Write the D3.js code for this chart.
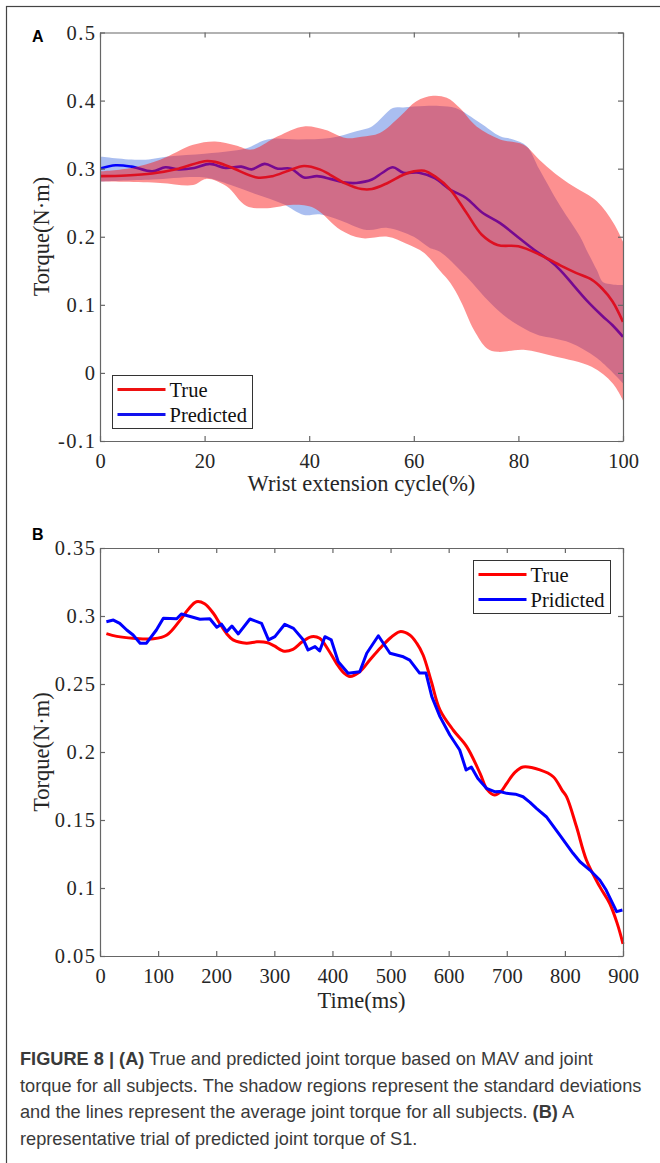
<!DOCTYPE html>
<html>
<head>
<meta charset="utf-8">
<script src="https://cdn.jsdelivr.net/npm/d3@7"></script>
<style>
  body { margin: 0; background: #fff; }
  svg { display: block; }
</style>
</head>
<body>
<svg id="fig" width="660" height="1163"></svg>
<script>
// ---- panel A: mean +/- sd over the wrist extension cycle ----
var pctTicks = [0, 20, 40, 60, 80, 100];
var torqueTicksA = [-0.1, 0, 0.1, 0.2, 0.3, 0.4, 0.5];

var aTrueMean = [[0,0.289],[5,0.290],[10,0.293],[15,0.300],[20,0.311],[22,0.310],[25,0.302],[30,0.287],[33,0.289],[36,0.297],[39,0.304],[42,0.299],[44,0.291],[47,0.278],[50,0.270],[52,0.270],[55,0.279],[58,0.291],[60,0.296],[62,0.297],[64,0.289],[67,0.269],[70,0.236],[73,0.203],[76,0.188],[80,0.186],[84,0.174],[88,0.158],[91,0.147],[94,0.137],[96,0.124],[98,0.105],[100,0.075]];
var aPredMean = [[0,0.300],[3,0.305],[6,0.303],[10,0.296],[12.5,0.302],[15,0.299],[18,0.301],[21,0.307],[24,0.301],[27,0.303],[29,0.299],[31.5,0.307],[34,0.300],[36.5,0.300],[39,0.287],[41.5,0.289],[44,0.285],[46.5,0.280],[49,0.279],[52,0.284],[54,0.294],[56,0.302],[58,0.294],[61,0.294],[64,0.286],[67,0.269],[70,0.257],[73,0.236],[76.5,0.220],[80,0.199],[83,0.181],[86,0.165],[88,0.151],[90.5,0.129],[93,0.107],[96,0.084],[98,0.070],[100,0.053]];
var aTrueUpper = [[0,0.296],[6,0.301],[11.5,0.313],[17.8,0.335],[22,0.340],[26,0.334],[29,0.328],[34,0.3475],[39,0.362],[43,0.357],[47,0.345],[50,0.347],[53.5,0.3525],[57.4,0.377],[60.5,0.399],[63.7,0.407],[66.3,0.404],[68.8,0.389],[72,0.362],[76.5,0.343],[81,0.335],[84,0.313],[87,0.293],[90.5,0.274],[95,0.252],[98.2,0.220],[100,0.193]];
var aTrueLower = [[0,0.281],[11.5,0.279],[17.8,0.276],[20.3,0.285],[24.2,0.274],[28,0.245],[32,0.242],[37,0.247],[41,0.242],[46,0.210],[50,0.198],[55,0.200],[58.5,0.190],[62,0.176],[65,0.150],[67,0.132],[69,0.105],[71.5,0.063],[74,0.036],[76,0.031],[81,0.034],[87,0.024],[94,0.009],[98,-0.015],[100,-0.040]];
var aPredUpper = [[0,0.318],[8,0.313],[13,0.318],[20,0.322],[25,0.326],[28,0.330],[32,0.343],[38,0.343],[44,0.345],[49,0.355],[52,0.362],[56,0.389],[58,0.390],[62,0.392],[65,0.392],[68,0.389],[72.7,0.367],[76.5,0.3475],[79,0.343],[81.6,0.333],[84,0.299],[88,0.245],[91.8,0.200],[93,0.181],[95,0.151],[96.2,0.133],[98,0.130],[100,0.129]];
var aPredLower = [[0,0.281],[10,0.284],[20,0.287],[25,0.276],[30,0.262],[35,0.248],[39,0.232],[42,0.233],[46,0.224],[51,0.210],[55,0.213],[60,0.200],[63,0.184],[65,0.178],[70,0.142],[74.6,0.103],[78,0.080],[81.6,0.063],[84,0.055],[86.7,0.051],[90,0.044],[95,0.022],[100,-0.015]];

// ---- panel B: one trial of S1 ----
var timeTicks = [0, 100, 200, 300, 400, 500, 600, 700, 800, 900];
var torqueTicksB = [0.05, 0.1, 0.15, 0.2, 0.25, 0.3, 0.35];

var bTrue = [[11,0.287],[29,0.285],[57,0.2836],[92,0.2832],[115,0.286],[138,0.297],[152,0.305],[166,0.3105],[180,0.309],[195,0.302],[206,0.2946],[218,0.287],[229,0.2824],[252,0.280],[270,0.281],[287,0.2805],[300,0.278],[315,0.2743],[332,0.2755],[348,0.281],[364,0.2848],[378,0.2836],[393,0.275],[407,0.2652],[420,0.258],[430,0.2555],[447,0.259],[465,0.268],[482,0.2763],[500,0.284],[516,0.2885],[533,0.286],[545,0.280],[556,0.2713],[570,0.252],[585,0.231],[608,0.216],[631,0.204],[654,0.1843],[666,0.1725],[679,0.1684],[690,0.171],[700,0.177],[714,0.185],[728,0.189],[757,0.1868],[780,0.1818],[795,0.172],[803,0.167],[820,0.145],[837,0.1206],[860,0.101],[877,0.0888],[890,0.074],[900,0.059]];
var bPred = [[11,0.2958],[23,0.297],[34,0.2946],[46,0.2897],[57,0.286],[69,0.280],[80,0.280],[97,0.2897],[109,0.2983],[132,0.298],[140,0.3015],[172,0.2976],[189,0.298],[201,0.2917],[209,0.294],[218,0.2885],[227,0.2926],[238,0.2868],[258,0.2978],[278,0.2946],[290,0.2824],[301,0.2848],[318,0.2939],[333,0.2909],[350,0.2824],[358,0.275],[370,0.2775],[378,0.2743],[387,0.2848],[398,0.2824],[410,0.2664],[427,0.2579],[447,0.259],[459,0.2726],[479,0.2855],[499,0.2726],[522,0.270],[533,0.2676],[550,0.258],[561,0.258],[571,0.2407],[585,0.226],[602,0.2125],[619,0.2015],[630,0.1868],[639,0.189],[650,0.1807],[665,0.1733],[679,0.1708],[688,0.171],[700,0.1696],[715,0.1690],[728,0.1671],[740,0.163],[751,0.1586],[768,0.1524],[791,0.139],[814,0.1255],[826,0.1193],[843,0.1132],[860,0.1059],[871,0.0985],[889,0.0826],[899,0.0838]];

var serif = '"Liberation Serif", "Times New Roman", serif';
var sans = '"Liberation Sans", Arial, sans-serif';
var axisColor = "#666";

var svg = d3.select("#fig");

// figure frame (only top and left show inside the window)
svg.append("rect")
  .attr("x", 6.5).attr("y", 6.5)
  .attr("width", 700).attr("height", 1200)
  .attr("fill", "none").attr("stroke", "#444").attr("stroke-width", 1.2);

function fmt(d) { return d === 0 ? "0" : String(+d.toFixed(2)); }

function drawAxes(g, x, y, xt, yt) {
  var x0 = x.range()[0], x1 = x.range()[1];
  var y0 = y.range()[0], y1 = y.range()[1];

  var left = g.append("g").attr("transform", "translate(" + x0 + ",0)")
    .call(d3.axisLeft(y).tickValues(yt).tickSizeInner(-5).tickSizeOuter(0).tickPadding(3.5).tickFormat(fmt));
  left.selectAll("text").attr("letter-spacing", 1.5);

  var parts = [
    left,
    g.append("g").attr("transform", "translate(0," + y0 + ")")
      .call(d3.axisBottom(x).tickValues(xt).tickSizeInner(-5).tickSizeOuter(0).tickPadding(12).tickFormat(fmt)),
    g.append("g").attr("transform", "translate(0," + y1 + ")")
      .call(d3.axisTop(x).tickValues(xt).tickSizeInner(-5).tickSizeOuter(0).tickFormat("")),
    g.append("g").attr("transform", "translate(" + x1 + ",0)")
      .call(d3.axisRight(y).tickValues(yt).tickSizeInner(-5).tickSizeOuter(0).tickFormat(""))
  ];
  parts.forEach(function (p) {
    p.attr("font-family", serif).attr("font-size", 20.5);
    p.selectAll("path, line").attr("stroke", axisColor).attr("stroke-width", 1.2);
    p.selectAll("text").attr("fill", "#262626");
  });
}

function band(x, y, upper, lower) {
  var gen = d3.line().x(function (d) { return x(d[0]); }).y(function (d) { return y(d[1]); })
    .curve(d3.curveCatmullRom);
  var top = gen(upper);
  var bottom = gen(lower.slice().reverse());
  return top + "L" + bottom.slice(1) + "Z";
}

function legend(g, bx, by, bw, bh, names) {
  g.append("rect").attr("x", bx).attr("y", by).attr("width", bw).attr("height", bh)
    .attr("fill", "#fff").attr("stroke", "#333").attr("stroke-width", 1);
  names.forEach(function (n, i) {
    var ly = by + 14 + i * 25;
    g.append("line").attr("x1", bx + 5).attr("x2", bx + 53).attr("y1", ly).attr("y2", ly)
      .attr("stroke", n.color).attr("stroke-width", 3);
    g.append("text").attr("x", bx + 57).attr("y", ly + 7)
      .attr("font-family", serif).attr("font-size", 20.5).attr("fill", "#111")
      .text(n.label);
  });
}

// ---------- Panel A ----------
var xA = d3.scaleLinear().domain([0, 100]).range([100, 623]);
var yA = d3.scaleLinear().domain([-0.1, 0.5]).range([441, 32.5]);
var gA = svg.append("g");

svg.append("clipPath").attr("id", "clipA").append("rect")
  .attr("x", 100).attr("y", 32.5).attr("width", 523).attr("height", 408.5);
var plotA = gA.append("g").attr("clip-path", "url(#clipA)");

var lineA = d3.line().x(function (d) { return xA(d[0]); }).y(function (d) { return yA(d[1]); })
  .curve(d3.curveCatmullRom);

plotA.append("path").attr("d", band(xA, yA, aPredUpper, aPredLower))
  .attr("fill", "rgb(74,117,223)").attr("fill-opacity", 0.47);
plotA.append("path").datum(aPredMean).attr("d", lineA)
  .attr("fill", "none").attr("stroke", "#0000ff").attr("stroke-width", 2.6);
plotA.append("path").attr("d", band(xA, yA, aTrueUpper, aTrueLower))
  .attr("fill", "rgb(250,20,20)").attr("fill-opacity", 0.47);
plotA.append("path").datum(aTrueMean).attr("d", lineA)
  .attr("fill", "none").attr("stroke", "#dd1022").attr("stroke-width", 2.6);

drawAxes(gA, xA, yA, pctTicks, torqueTicksA);

legend(gA, 112.5, 375.5, 140, 53, [{ label: "True", color: "#ee1111" }, { label: "Predicted", color: "#1111ee" }]);

gA.append("text").attr("x", 361.5).attr("y", 491).attr("text-anchor", "middle")
  .attr("font-family", serif).attr("font-size", 22.5).attr("fill", "#262626")
  .text("Wrist extension cycle(%)");
gA.append("text").attr("transform", "translate(49,236.5) rotate(-90)").attr("text-anchor", "middle")
  .attr("font-family", serif).attr("font-size", 22.5).attr("fill", "#262626")
  .text("Torque(N\u00b7m)");
gA.append("text").attr("x", 32).attr("y", 42)
  .attr("font-family", sans).attr("font-weight", "bold").attr("font-size", 16).attr("fill", "#000")
  .text("A");

// ---------- Panel B ----------
var xB = d3.scaleLinear().domain([0, 900]).range([100, 623]);
var yB = d3.scaleLinear().domain([0.05, 0.35]).range([956, 548]);
var gB = svg.append("g");

var lineB = d3.line().x(function (d) { return xB(d[0]); }).y(function (d) { return yB(d[1]); });

gB.append("path").datum(bTrue).attr("d", lineB.curve(d3.curveCatmullRom))
  .attr("fill", "none").attr("stroke", "#ff0000").attr("stroke-width", 3);
gB.append("path").datum(bPred).attr("d", lineB.curve(d3.curveLinear))
  .attr("fill", "none").attr("stroke", "#0000ff").attr("stroke-width", 3)
  .attr("stroke-linejoin", "round");

drawAxes(gB, xB, yB, timeTicks, torqueTicksB);

legend(gB, 473.5, 560.5, 137, 53, [{ label: "True", color: "#ff0000" }, { label: "Pridicted", color: "#0000ff" }]);

gB.append("text").attr("x", 361.5).attr("y", 1008).attr("text-anchor", "middle")
  .attr("font-family", serif).attr("font-size", 22.5).attr("fill", "#262626")
  .text("Time(ms)");
gB.append("text").attr("transform", "translate(49,752) rotate(-90)").attr("text-anchor", "middle")
  .attr("font-family", serif).attr("font-size", 22.5).attr("fill", "#262626")
  .text("Torque(N\u00b7m)");
gB.append("text").attr("x", 32).attr("y", 540)
  .attr("font-family", sans).attr("font-weight", "bold").attr("font-size", 16).attr("fill", "#000")
  .text("B");

// ---------- caption ----------
var caption = [
  [["FIGURE 8 | (A)", true], [" True and predicted joint torque based on MAV and joint", false]],
  [["torque for all subjects. The shadow regions represent the standard deviations", false]],
  [["and the lines represent the average joint torque for all subjects. ", false], ["(B)", true], [" A", false]],
  [["representative trial of predicted joint torque of S1.", false]]
];
var cap = svg.append("g").attr("font-family", sans)
  .attr("font-size", 18.2).attr("fill", "#3a3a3a");
caption.forEach(function (line, i) {
  var t = cap.append("text").attr("x", 20).attr("y", 1065 + i * 26.7);
  line.forEach(function (seg) {
    t.append("tspan").attr("font-weight", seg[1] ? "bold" : "normal").text(seg[0]);
  });
});
</script>
</body>
</html>
